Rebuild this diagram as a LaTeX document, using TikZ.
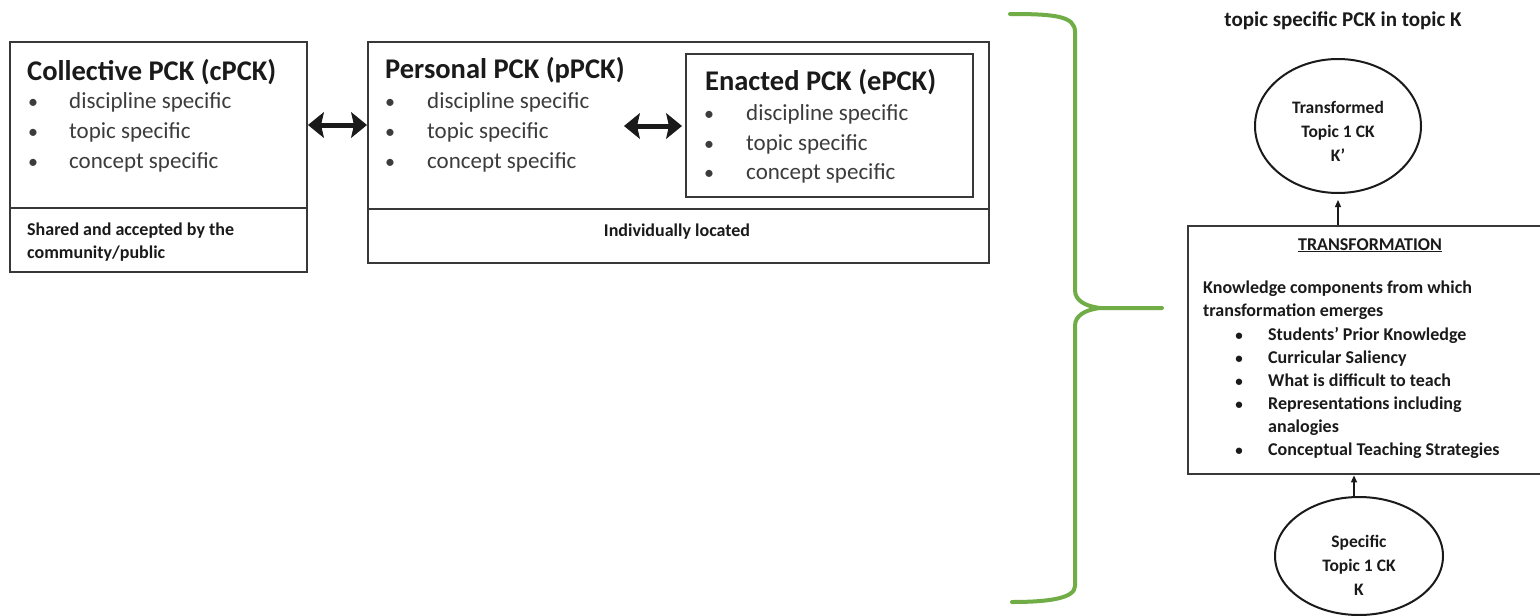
\documentclass[tikz,border=0pt]{standalone}
\usepackage{fontspec}
\setmainfont{Carlito}
\usetikzlibrary{arrows.meta,shapes.geometric}
\definecolor{ink}{HTML}{1A1A1A}
\definecolor{itemgray}{HTML}{3C3C3C}
\definecolor{frame}{HTML}{383838}
\definecolor{bracegreen}{RGB}{112,173,71}

\tikzset{
  panel/.style={draw=frame, line width=2pt, rectangle, anchor=north west, inner sep=0pt},
  headline/.style={anchor=base west, inner sep=0pt, text=ink, font=\fontsize{28.5}{34}\selectfont\bfseries},
  bul/.style={anchor=base, inner sep=0pt, text=itemgray, font=\fontsize{20}{30}\selectfont},
  itemtxt/.style={anchor=base west, inner sep=0pt, text=itemgray, font=\fontsize{23}{30}\selectfont},
  small/.style={inner sep=0pt, text=ink, font=\fontsize{18}{23}\selectfont\bfseries},
  smallbul/.style={inner sep=0pt, anchor=base, text=ink, font=\fontsize{15}{23}\selectfont\bfseries},
  oval/.style={draw=ink, line width=2pt, ellipse, inner sep=0pt},
  ovaltxt/.style={inner sep=0pt, align=center, text=ink, font=\fontsize{17.5}{24}\selectfont\bfseries},
  heavyhead/.tip={Stealth[length=16pt,width=26pt,inset=3pt,line width=1pt]},
  bothway/.style={line width=5pt, ink, heavyhead-heavyhead},
  uparrow/.style={line width=1.2pt, ink, -{Triangle[length=7pt,width=6pt]}},
  brace/.style={draw=bracegreen, line width=4pt, line cap=round, line join=round}
}

\begin{document}
\begin{tikzpicture}[x=1pt,y=-1pt]
  \useasboundingbox[fill=white] (0,0) rectangle (1540,616);

  % ---------- Collective PCK ----------
  \node[panel, minimum width=297pt, minimum height=230pt] (cpck) at (9,41) {};
  \draw[frame, line width=2pt] (cpck.west |- 0,208) -- (cpck.east |- 0,208);
  \node[headline] (cpck-title) at (27,80) {Collective PCK (cPCK)};
  \foreach \t [count=\i] in {discipline specific, topic specific, concept specific} {
    \node[bul] (cb\i) at (33,78+30*\i) {\textbullet};
    \node[itemtxt] (ct\i) at (69,78+30*\i) {\t};
  }
  \node[small, anchor=base west] (cpck-n1) at (27,235) {Shared and accepted by the};
  \node[small, anchor=base west] (cpck-n2) at (27,258) {community/public};

  % ---------- Personal PCK ----------
  \node[panel, minimum width=621pt, minimum height=221pt] (ppck) at (367,41) {};
  \draw[frame, line width=2pt] (ppck.west |- 0,209) -- (ppck.east |- 0,209);
  \node[headline] (ppck-title) at (385,78) {Personal PCK (pPCK)};
  \foreach \t [count=\i] in {discipline specific, topic specific, concept specific} {
    \node[bul] (pb\i) at (390,78+30*\i) {\textbullet};
    \node[itemtxt] (pt\i) at (427,78+30*\i) {\t};
  }
  \node[small, anchor=base] (ppck-n) at (677,236) {Individually located};

  % ---------- Enacted PCK ----------
  \node[panel, line width=1.6pt, minimum width=287pt, minimum height=143pt] (epck) at (685,53) {};
  \node[headline] (epck-title) at (705,90) {Enacted PCK (ePCK)};
  \foreach \t [count=\i] in {discipline specific, topic specific, concept specific} {
    \node[bul] (eb\i) at (709,91+29.5*\i) {\textbullet};
    \node[itemtxt] (et\i) at (746,91+29.5*\i) {\t};
  }

  % ---------- two-way links ----------
  \draw[bothway] ([yshift=32pt]cpck.east) -- ([yshift=32pt]cpck.east -| ppck.west);
  \coordinate (pe-start) at (624,126);
  \draw[bothway, shorten >=3pt] (pe-start) -- (pe-start -| epck.west);

  % ---------- green brace ----------
  \draw[brace] (1010,14) .. controls (1055,14) and (1075,16) .. (1075,32)
    -- (1075,290) .. controls (1075,300) and (1084,306) .. (1100,308) -- (1162,308);
  \draw[brace] (1100,308) .. controls (1084,310) and (1075,316) .. (1075,326)
    -- (1075,586) .. controls (1075,598) and (1050,602) .. (1012,602);

  % ---------- topic specific PCK ----------
  \node[inner sep=0pt, anchor=base, text=ink, font=\fontsize{21}{25}\selectfont\bfseries]
    (topic-title) at (1343,26) {topic specific PCK in topic K};

  \node[oval, minimum width=166pt, minimum height=134pt] (topell) at (1338,126) {};
  \node[ovaltxt] (topell-txt) at (1338,131) {Transformed\\Topic 1 CK\\K’};

  \node[panel, line width=2.4pt, minimum width=366pt, minimum height=248pt] (trans) at (1187,225) {};
  \node[small, anchor=base] (trans-head) at (1370,250) {\underline{TRANSFORMATION}};
  \node[small, anchor=base west] (trans-l1) at (1203,293) {Knowledge components from which};
  \node[small, anchor=base west] (trans-l2) at (1203,316) {transformation emerges};
  \foreach \t/\yy [count=\i] in {Students’ Prior Knowledge/340, Curricular Saliency/363,
      What is difficult to teach/386, Representations including/409,
      Conceptual Teaching Strategies/455} {
    \node[smallbul] (tb\i) at (1239,\yy) {\textbullet};
    \node[small, anchor=base west] (tt\i) at (1268,\yy) {\t};
  }
  \node[small, anchor=base west] (tt-cont) at (1268,432) {analogies};

  \node[oval, minimum width=168pt, minimum height=118pt] (botell) at (1359,556) {};
  \node[ovaltxt] (botell-txt) at (1359,565) {Specific\\Topic 1 CK\\K};

  % ---------- upward links ----------
  \draw[uparrow, shorten >=6pt] (topell.south |- trans.north) -- (topell.south);
  \draw[uparrow] ([xshift=-5pt]botell.north) -- ([xshift=-5pt]botell.north |- trans.south);
\end{tikzpicture}
\end{document}
